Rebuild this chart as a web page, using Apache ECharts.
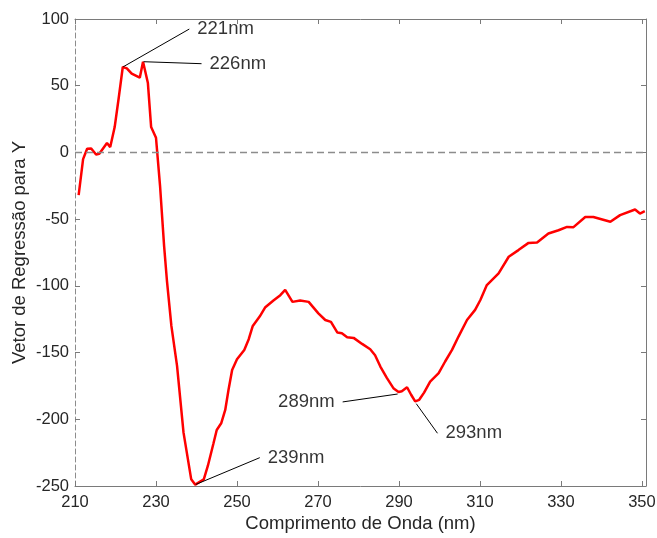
<!DOCTYPE html>
<html>
<head>
<meta charset="utf-8">
<script src="https://cdn.jsdelivr.net/npm/echarts@6/dist/echarts.min.js"></script>
<style>
html, body { margin: 0; padding: 0; background: #fff; }
#grafico_vetor { width: 657px; height: 538px; }
</style>
</head>
<body>
<div id="grafico_vetor"></div>
<script>
// comprimento de onda (nm) e vetor de regressao
var comprimento = [
  210.9, 212, 213, 214, 215.2, 216, 217.9, 218.7, 219.8, 220.8,
  221.8, 222.8, 224, 226, 226.8, 228, 228.8, 230, 231, 232,
  232.7, 233.8, 235.2, 236.8, 238.7, 239.7, 241.8, 242.8, 244.2, 245,
  246.1, 247.1, 247.9, 248.8, 250, 251.8, 252.9, 253.9, 255.6, 257,
  259, 260.7, 261.9, 263.7, 265.6, 267.7, 270.1, 271.8, 273.2, 274.8,
  275.9, 277.2, 278.8, 280.9, 282.9, 284.1, 285.4, 287, 288.7, 289.9,
  290.7, 292, 293, 294, 295, 296.2, 297.7, 299.8, 301.4, 303.1,
  304.7, 306.8, 308.8, 310.1, 311.7, 314.6, 317.1, 319.5, 322, 324.1,
  326.9, 329.4, 331.5, 333.1, 336, 338, 342.2, 344.6, 348.3, 349.5,
  350.7
]
var vetor = [
  -32, -5, 2.8, 3, -1.5, -1, 7, 4, 19, 41,
  64, 63, 59, 56, 68, 52, 19, 11, -25, -70,
  -96, -130, -160, -210, -245, -249, -245, -235, -218, -208,
  -203, -193, -178, -163, -155, -148, -140, -130, -123, -116,
  -111, -107, -103, -112, -111, -112, -120.6, -125.6, -127, -135,
  -135.5, -138.5, -139, -143.5, -147.5, -152, -160.5, -169, -177, -179.6,
  -179, -176, -181.6, -186.6, -185.4, -180, -171.7, -165.4, -156.7, -148,
  -138, -125.6, -118, -110.6, -99.4, -90.7, -78.2, -73.2, -67.8, -67.5,
  -60.8, -58.3, -55.8, -56, -48.4, -48.4, -52, -47, -42.8, -45.8,
  -44
]
var ticksX = [210, 230, 250, 270, 290, 310, 330, 350]

// picos anotados
var picosNm = [221.8, 226.8, 239.7, 289.8, 294.2]
var picosValor = [64, 68, -249, -181, -188]
var picosTexto = ['221nm', '226nm', '239nm', '289nm', '293nm']

var fonte = 'Liberation Sans, Arial, sans-serif'
var corEixo = '#7a7a7a'

var chart = echarts.init(document.getElementById('grafico_vetor'))

// deslocamento dos rotulos (px)
var desloc = [[66, -38], [58, 2], [64, -27], [-55, 8], [21, 30]]

var option = {
  animation: false,
  grid: { left: 75, right: 11, top: 19, bottom: 52, outerBoundsMode: 'none' },
  xAxis: [
    {
      type: 'value', min: 210, max: 351,
      name: 'Comprimento de Onda (nm)', nameLocation: 'middle', nameGap: 28,
      nameMoveOverlap: false,
      nameTextStyle: { fontFamily: fonte, fontSize: 18.5, color: '#262626' },
      axisLine: { onZero: false, lineStyle: { color: corEixo } },
      axisTick: { inside: true, length: 5, customValues: ticksX, lineStyle: { color: corEixo } },
      axisLabel: { customValues: ticksX, fontFamily: fonte, fontSize: 16.5, color: '#262626', margin: 8 },
      splitLine: { show: false }
    },
    {
      type: 'value', min: 210, max: 351, position: 'top',
      axisLine: { onZero: false, lineStyle: { color: corEixo } },
      axisTick: { inside: true, length: 5, customValues: ticksX, lineStyle: { color: corEixo } },
      axisLabel: { show: false },
      splitLine: { show: false }
    }
  ],
  yAxis: [
    {
      type: 'value', min: -250, max: 100, interval: 50,
      name: 'Vetor de Regressão para Y', nameLocation: 'middle', nameGap: 46,
      nameMoveOverlap: false,
      nameTextStyle: { fontFamily: fonte, fontSize: 18.5, color: '#262626' },
      axisLine: { show: true, onZero: false, lineStyle: { color: '#8c8c8c', type: [5, 3] } },
      axisTick: { show: true, inside: true, length: 5, lineStyle: { color: corEixo } },
      axisLabel: { fontFamily: fonte, fontSize: 16.5, color: '#262626', margin: 6 },
      splitLine: { show: false }
    },
    {
      type: 'value', min: -250, max: 100, interval: 50, position: 'right',
      axisLine: { show: true, onZero: false, lineStyle: { color: corEixo } },
      axisTick: { show: true, inside: true, length: 5, lineStyle: { color: corEixo } },
      axisLabel: { show: false },
      splitLine: { show: false }
    }
  ],
  series: [
    {
      type: 'line',
      data: comprimento.map(function (nm, i) { return [nm, vetor[i]] }),
      showSymbol: false,
      lineStyle: { color: '#ff0000', width: 2.5 },
      z: 3,
      markLine: {
        silent: true,
        symbol: 'none',
        label: { show: false },
        lineStyle: { color: '#8c8c8c', type: [7, 4], width: 1.3 },
        data: [{ yAxis: 0 }]
      }
    },
    {
      type: 'scatter',
      data: picosNm.map(function (nm, i) {
        var item = { value: [nm, picosValor[i]], name: picosTexto[i] }
        if (i === 3) item.label = { position: 'left' }
        return item
      }),
      symbolSize: 1,
      itemStyle: { color: 'rgba(0,0,0,0)' },
      z: 4,
      label: {
        show: true,
        position: 'right',
        distance: 0,
        padding: [2, 8],
        backgroundColor: 'rgba(255,255,255,0)',
        formatter: '{b}',
        fontFamily: fonte,
        fontSize: 18.5,
        color: '#000'
      },
      labelLine: { show: true, lineStyle: { color: '#000', width: 1 } },
      labelLayout: function (p) {
        var d = desloc[p.dataIndex]
        return { dx: d[0], dy: d[1] }
      }
    }
  ]
}

chart.setOption(option)
</script>
</body>
</html>
